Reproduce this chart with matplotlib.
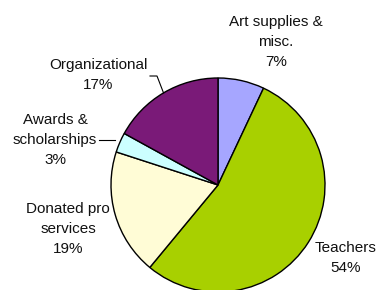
import numpy as np
import matplotlib
matplotlib.use("Agg")
import matplotlib.pyplot as plt

# Budget breakdown, clockwise from 12 o'clock
categories = ["Art supplies &\nmisc.", "Teachers", "Donated pro\nservices",
              "Awards &\nscholarships", "Organizational"]
shares = [7, 54, 19, 3, 17]
colors = ["#a6a6ff", "#a8d000", "#fffcd6", "#ccffff", "#7a1a78"]

# label placement in pixel coords (x, y from top), plus optional leader elbow
label_pos = [(276, 42), (346, 258), (68, 229), (55, 140), (98, 75)]
leader_elbow = [None, None, None, (99, 140), (150, 76)]

W, H = 379, 290
fig = plt.figure(figsize=(W / 100, H / 100), dpi=100)
ax = fig.add_axes([0, 0, 1, 1])

cx, cy, r = 218, H - 185, 107
wedges, _ = ax.pie(
    shares, colors=colors, startangle=90, counterclock=False,
    center=(cx, cy), radius=r, frame=True,
    wedgeprops=dict(edgecolor="black", linewidth=1.0),
)
ax.set_xlim(0, W)
ax.set_ylim(0, H)
ax.set_aspect("equal")
ax.axis("off")

for w, name, val, (lx, ly), elbow in zip(wedges, categories, shares, label_pos, leader_elbow):
    ax.text(lx, H - ly, f"{name}\n{val}%", ha="center", va="center",
            fontsize=11, family="Liberation Sans", linespacing=1.52,
            color="#111111")
    if elbow is None:
        continue
    mid = np.deg2rad((w.theta1 + w.theta2) / 2)
    ex, ey = cx + r * np.cos(mid), cy + r * np.sin(mid)
    if name.startswith("Organ"):
        xs = [elbow[0], elbow[0] + 7, ex]
        ys = [H - elbow[1], H - elbow[1], ey]
    else:
        xs = [elbow[0], elbow[0] + 16]
        ys = [H - elbow[1], H - elbow[1]]
    ax.plot(xs, ys, color="black", linewidth=0.8)

fig.savefig("out.png", dpi=100)
